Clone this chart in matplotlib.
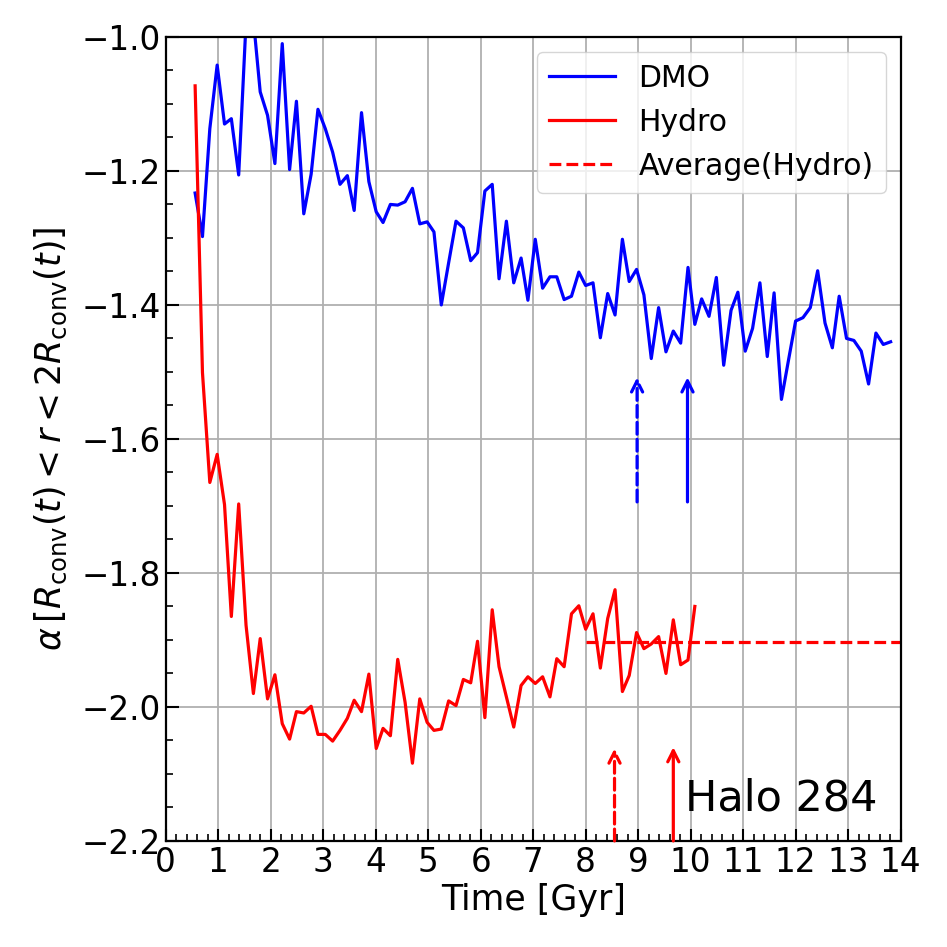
import matplotlib
matplotlib.use("Agg")
import matplotlib.pyplot as plt
from matplotlib.ticker import MultipleLocator

time_gyr = [0.56, 0.70, 0.84, 0.98, 1.12, 1.25, 1.39, 1.53, 1.67, 1.80,
            1.94, 2.08, 2.22, 2.36, 2.49, 2.63, 2.77, 2.90, 3.04, 3.18,
            3.32, 3.46, 3.59, 3.73, 3.87, 4.01, 4.14, 4.28, 4.42, 4.56,
            4.70, 4.84, 4.98, 5.11, 5.25, 5.39, 5.53, 5.67, 5.81, 5.94,
            6.08, 6.22, 6.35, 6.49, 6.63, 6.77, 6.90, 7.04, 7.18, 7.32,
            7.45, 7.59, 7.73, 7.87, 8.00, 8.14, 8.28, 8.42, 8.56, 8.70,
            8.83, 8.97, 9.11, 9.25, 9.39, 9.53, 9.67, 9.81, 9.95, 10.08,
            10.21, 10.35, 10.49, 10.63, 10.77, 10.90, 11.04, 11.18, 11.32, 11.46,
            11.59, 11.73, 11.87, 12.00, 12.14, 12.28, 12.42, 12.56, 12.70, 12.83,
            12.97, 13.11, 13.25, 13.39, 13.53, 13.67, 13.81]

alpha_dmo = [-1.233, -1.298, -1.137, -1.042, -1.130, -1.122, -1.206, -0.978, -0.974, -1.082,
             -1.117, -1.189, -1.010, -1.198, -1.096, -1.264, -1.205, -1.108, -1.137, -1.172,
             -1.220, -1.207, -1.259, -1.113, -1.216, -1.261, -1.277, -1.250, -1.251, -1.246,
             -1.226, -1.279, -1.276, -1.291, -1.400, -1.337, -1.275, -1.285, -1.334, -1.322,
             -1.230, -1.220, -1.361, -1.275, -1.367, -1.330, -1.393, -1.302, -1.375, -1.358,
             -1.358, -1.392, -1.387, -1.351, -1.371, -1.367, -1.449, -1.383, -1.415, -1.302,
             -1.365, -1.347, -1.385, -1.480, -1.404, -1.470, -1.439, -1.457, -1.344, -1.429,
             -1.391, -1.417, -1.359, -1.490, -1.408, -1.381, -1.469, -1.435, -1.367, -1.477,
             -1.382, -1.541, -1.480, -1.424, -1.419, -1.404, -1.349, -1.427, -1.464, -1.387,
             -1.450, -1.453, -1.469, -1.518, -1.442, -1.459, -1.455]

alpha_hydro = [-1.073, -1.501, -1.665, -1.623, -1.698, -1.865, -1.697, -1.878, -1.980, -1.898,
               -1.988, -1.952, -2.025, -2.048, -2.007, -2.009, -1.999, -2.041, -2.041, -2.051,
               -2.035, -2.017, -1.990, -2.007, -1.951, -2.062, -2.032, -2.043, -1.929, -1.993,
               -2.084, -1.988, -2.023, -2.035, -2.033, -1.991, -1.998, -1.959, -1.964, -1.902,
               -2.016, -1.855, -1.940, -1.985, -2.030, -1.968, -1.955, -1.965, -1.955, -1.985,
               -1.928, -1.940, -1.861, -1.849, -1.884, -1.861, -1.942, -1.868, -1.825, -1.977,
               -1.953, -1.889, -1.913, -1.906, -1.895, -1.950, -1.870, -1.937, -1.930, -1.850]

avg_hydro = -1.903
avg_range = [8.0, 14.0]

# arrows: (x, y_start, y_end)
dmo_arrow_dashed = (8.98, -1.694, -1.508)
dmo_arrow_solid = (9.94, -1.694, -1.508)
hydro_arrow_dashed = (8.55, -2.20, -2.062)
hydro_arrow_solid = (9.67, -2.20, -2.060)

xticks = list(range(0, 15))
yticks = [-2.2, -2.0, -1.8, -1.6, -1.4, -1.2, -1.0]
halo_label = "Halo 284"

fig = plt.figure(figsize=(9.47, 9.47), dpi=100)
ax = fig.add_axes([0.175, 0.112, 0.776, 0.849])

n_h = len(alpha_hydro)
ax.plot(time_gyr, alpha_dmo, color="blue", lw=2.3, label="DMO")
ax.plot(time_gyr[:n_h], alpha_hydro, color="red", lw=2.3, label="Hydro")
ax.plot(avg_range, [avg_hydro, avg_hydro], color="red", lw=2.3, ls="--",
        label="Average(Hydro)")

def arrow(spec, color, ls):
    x, y0, y1 = spec
    ax.annotate("", xy=(x, y1), xytext=(x, y0),
                arrowprops=dict(arrowstyle="->", color=color, lw=2.3,
                                linestyle=ls, shrinkA=0, shrinkB=0,
                                mutation_scale=20),
                annotation_clip=False)

arrow(dmo_arrow_dashed, "blue", "--")
arrow(dmo_arrow_solid, "blue", "-")
arrow(hydro_arrow_dashed, "red", "--")
arrow(hydro_arrow_solid, "red", "-")

ax.text(0.707, 0.038, halo_label, transform=ax.transAxes, fontsize=31,
        ha="left", va="baseline")

ax.set_xlim(0, 14)
ax.set_ylim(-2.2, -1.0)
ax.set_xticks(xticks)
ax.set_yticks(yticks)
ax.xaxis.set_minor_locator(MultipleLocator(0.2))
ax.yaxis.set_minor_locator(MultipleLocator(0.05))
ax.tick_params(which="major", direction="in", length=9, width=1.5,
               labelsize=23.5, top=False, right=False)
ax.tick_params(which="minor", direction="in", length=5, width=1.2,
               top=False, right=False)
ax.grid(True, which="major", color="#b0b0b0", lw=1.3)
for s in ax.spines.values():
    s.set_linewidth(1.6)

ax.set_xlabel("Time [Gyr]", fontsize=25, labelpad=3)
ax.set_ylabel(r"$\alpha\,[R_{\rm conv}(t) < r < 2R_{\rm conv}(t)]$", fontsize=25,
              labelpad=9)

ax.legend(loc="upper right", fontsize=21.5, handlelength=2.2)

fig.savefig("out.png", dpi=100)
